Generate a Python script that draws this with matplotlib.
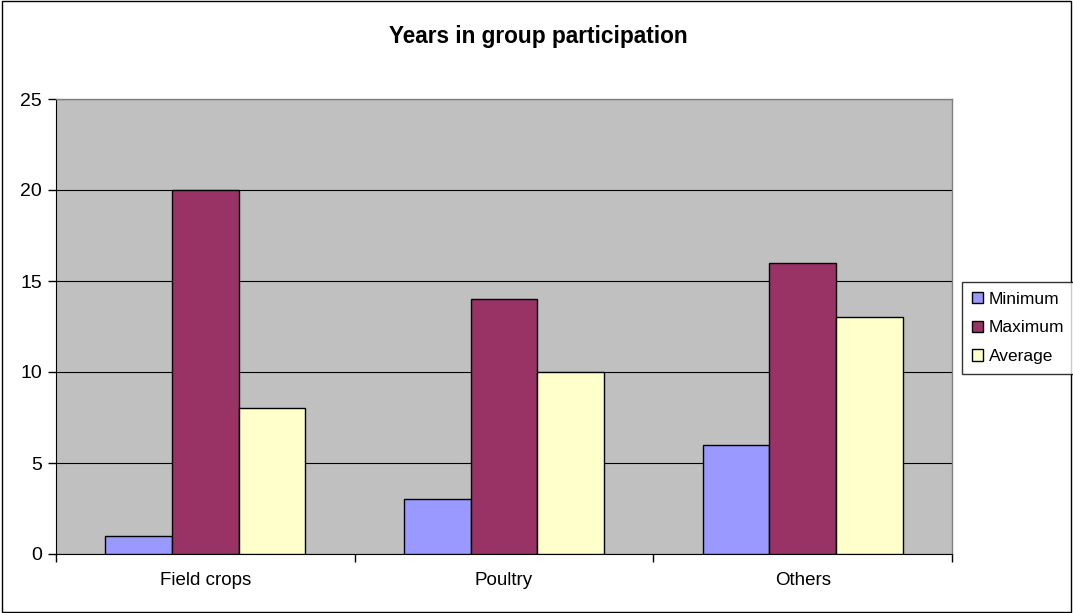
import numpy as np
import matplotlib
matplotlib.use("Agg")
import matplotlib.pyplot as plt
from matplotlib.patches import Rectangle

plt.rcParams['font.family'] = ['Liberation Sans', 'DejaVu Sans']

categories = ['Field crops', 'Poultry', 'Others']
series_names = ['Minimum', 'Maximum', 'Average']
minimum = [1, 3, 6]
maximum = [20, 14, 16]
average = [8, 10, 13]
colors = ['#9999FF', '#993366', '#FFFFCC']

fig = plt.figure(figsize=(10.73, 6.13), dpi=100)
ax = fig.add_axes([56 / 1073, 1 - 554 / 613, (952 - 56) / 1073, (554 - 99) / 613])
ax.set_facecolor('#C0C0C0')

x = np.arange(len(categories)) + 0.5
width = 0.2235
for i, (name, vals) in enumerate(zip(series_names, [minimum, maximum, average])):
    ax.bar(x + (i - 1) * width, vals, width, color=colors[i], edgecolor='black',
           linewidth=1, label=name, zorder=3)

ax.set_xlim(0, 3)
ax.set_ylim(0, 25)
ax.set_yticks([0, 5, 10, 15, 20, 25])
ax.yaxis.grid(True, color='black', linewidth=0.8, zorder=1)
ax.set_axisbelow(True)

# category labels centred, ticks at the category boundaries
ax.set_xticks([0, 1, 2, 3])
ax.set_xticklabels([])
ax.set_xticks(x, minor=True)
ax.set_xticklabels(categories, minor=True, fontsize=13.5)
ax.tick_params(axis='x', which='minor', length=0, pad=13)
ax.tick_params(axis='x', which='major', direction='out', length=6, width=1)
ax.tick_params(axis='y', direction='out', length=6, width=1, labelsize=14, pad=4)

for s in ['top', 'right']:
    ax.spines[s].set_color('#808080')
    ax.spines[s].set_linewidth(1)
ax.spines['left'].set_color('black')
ax.spines['bottom'].set_color('black')

fig.text(538 / 1073, 1 - 37 / 613, 'Years in group participation', ha='center',
         va='center', fontsize=16.3, fontweight='bold')

leg = fig.legend(loc='upper left', bbox_to_anchor=(962 / 1073, 1 - 282 / 613),
                 fontsize=12.5, frameon=True, fancybox=False, edgecolor='black',
                 handlelength=0.65, handleheight=0.65, handletextpad=0.35,
                 labelspacing=0.8, borderpad=0.55, borderaxespad=0)
leg.get_frame().set_linewidth(1)

# thin border around the whole chart
fig.patches.append(Rectangle((0.002, 0.002), 0.996, 0.996, transform=fig.transFigure,
                             fill=False, edgecolor='black', linewidth=1))

fig.savefig('out.png', dpi=100)
